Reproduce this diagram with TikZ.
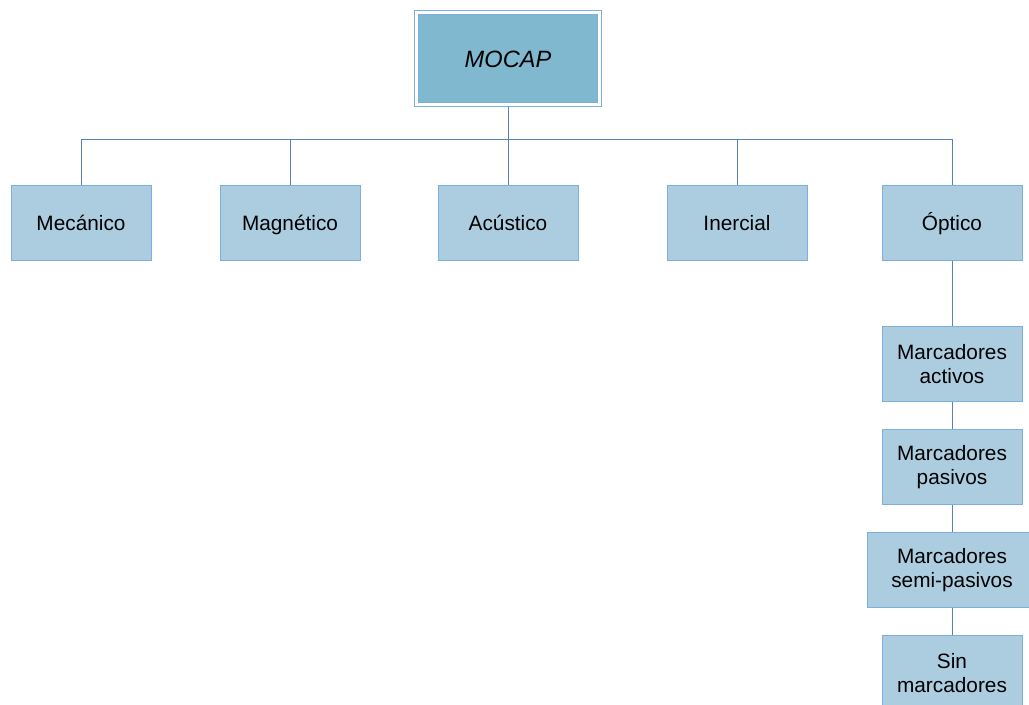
\documentclass[tikz,border=0pt]{standalone}
\usepackage{fontspec}
\setmainfont{Liberation Sans}
\usepackage{tikz}
\usetikzlibrary{positioning}
\definecolor{boxfill}{RGB}{172,205,224}
\definecolor{topfill}{RGB}{128,184,207}
\definecolor{boxline}{RGB}{125,175,220}
\definecolor{linkblue}{RGB}{84,130,185}

\begin{document}
\begin{tikzpicture}[
    x=0.5pt, y=-0.5pt,
    node distance=13.5pt,
    cat/.style={rectangle, draw=boxline, fill=boxfill, line width=0.5pt, minimum width=70pt, minimum height=37.5pt, align=center, font=\fontsize{10.4}{12.2}\selectfont},
    single/.style={text height=7.6pt, text depth=0pt},
    root/.style={rectangle, draw=boxline, double=white, double distance=1.5pt, line width=0.5pt, fill=topfill, outer sep=1.25pt, minimum width=91.5pt, minimum height=46pt, text height=8.6pt, text depth=0pt, font=\fontsize{11.8}{14}\selectfont\itshape},
    link/.style={draw=linkblue, line width=0.5pt}
]
    \useasboundingbox (0,0) rectangle (1029,705);
    \clip (0,0) rectangle (1029,705);

    \node [root] (mocap) at (508,58.5) {MOCAP};

    \node [cat, single] (mec) at (81,223) {Mecánico};
    \node [cat, single] (mag) at (290,223) {Magnético};
    \node [cat, single] (acu) at (508,223) {Acústico};
    \node [cat, single] (ine) at (737,223) {Inercial};
    \node [cat, single] (opt) at (952,223) {Óptico};

    \node [cat, below=32.5pt of opt] (act) {Marcadores\\activos};
    \node [cat, below=of act] (pas) {Marcadores\\pasivos};
    \node [cat, below=of pas, minimum width=85pt] (semi) {Marcadores\\semi-pasivos};
    \node [cat, below=of semi] (sin) {Sin\\marcadores};

    \coordinate (bus) at (508,140);

    \draw [link] (mocap.south) -- (acu.north);
    \foreach \n in {mec, mag, ine, opt}
        \draw [link] (mocap.south |- bus) -| (\n.north);

    \draw [link] (opt.south) -- (act.north);
    \draw [link] (act.south) -- (pas.north);
    \draw [link] (pas.south) -- (semi.north);
    \draw [link] (semi.south) -- (sin.north);
\end{tikzpicture}
\end{document}
